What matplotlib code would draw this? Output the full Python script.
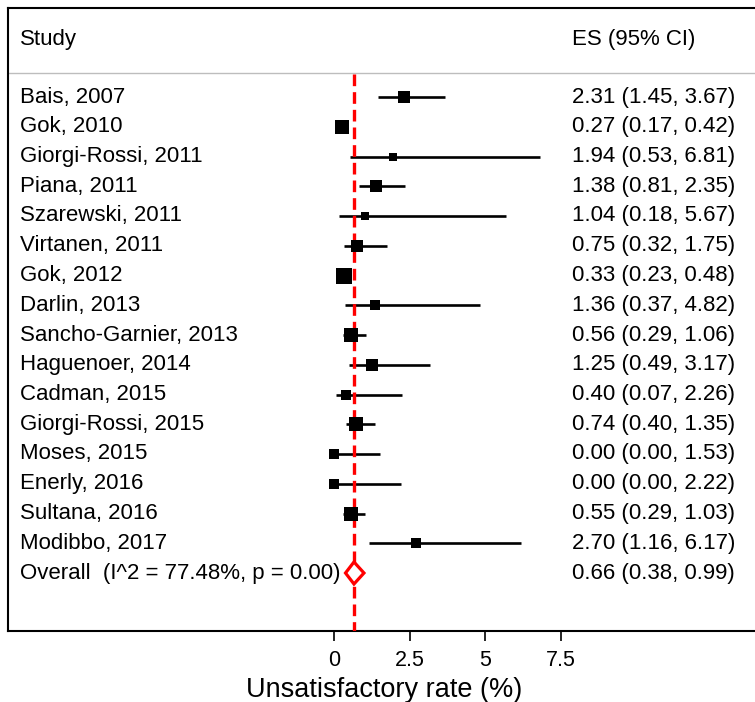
import matplotlib.pyplot as plt
from matplotlib.patches import Polygon

plt.rcParams['font.family'] = ['Liberation Sans', 'DejaVu Sans']

studies = ['Bais, 2007', 'Gok, 2010', 'Giorgi-Rossi, 2011', 'Piana, 2011',
           'Szarewski, 2011', 'Virtanen, 2011', 'Gok, 2012', 'Darlin, 2013',
           'Sancho-Garnier, 2013', 'Haguenoer, 2014', 'Cadman, 2015',
           'Giorgi-Rossi, 2015', 'Moses, 2015', 'Enerly, 2016', 'Sultana, 2016',
           'Modibbo, 2017']
es = [2.31, 0.27, 1.94, 1.38, 1.04, 0.75, 0.33, 1.36, 0.56, 1.25, 0.40, 0.74,
      0.00, 0.00, 0.55, 2.70]
lo = [1.45, 0.17, 0.53, 0.81, 0.18, 0.32, 0.23, 0.37, 0.29, 0.49, 0.07, 0.40,
      0.00, 0.00, 0.29, 1.16]
hi = [3.67, 0.42, 6.81, 2.35, 5.67, 1.75, 0.48, 4.82, 1.06, 3.17, 2.26, 1.35,
      1.53, 2.22, 1.03, 6.17]
# study weights (%), shown as square area
weights = [7.1, 9.8, 3.0, 7.1, 2.6, 7.1, 10.6, 3.9, 8.4, 5.4, 4.8, 8.4, 4.4,
           4.4, 9.1, 3.9]

overall_label = 'Overall  (I^2 = 77.48%, p = 0.00)'
overall = (0.66, 0.38, 0.99)

xticks = [0, 2.5, 5, 7.5]
xticklabels = ['0', '2.5', '5', '7.5']

W, H = 755, 702
fig = plt.figure(figsize=(W / 100, H / 100), dpi=100)

# plot frame in pixels
left_px, right_px, top_px, bot_px = 8, 760, 8, 631
ax = fig.add_axes([left_px / W, 1 - bot_px / H,
                   (right_px - left_px) / W, (bot_px - top_px) / H])

# x scale: 0 -> 334 px, 7.5 -> 561 px
x0_px, ppu = 334, (561 - 334) / 7.5
ax.set_xlim((left_px - x0_px) / ppu, (right_px - x0_px) / ppu)
# rows: first at 97 px, spacing 29.75 px
y0_px, row_px = 97, 29.75
ax.set_ylim((bot_px - y0_px) / row_px, (top_px - y0_px) / row_px)

n = len(studies)
lab_x = (20 - left_px) / (right_px - left_px)
es_x = (572 - left_px) / (right_px - left_px)
tr = ax.get_yaxis_transform()
fs = 16

ax.text(lab_x, -1.92, 'Study', transform=tr, fontsize=fs, va='center')
ax.text(es_x, -1.92, 'ES (95% CI)', transform=tr, fontsize=fs, va='center')
div_y = (73 - y0_px) / row_px
ax.axhline(div_y, color='#bdbdbd', lw=1.0)

for i in range(n):
    ax.plot([lo[i], hi[i]], [i, i], color='black', lw=1.9, zorder=2,
            solid_capstyle='butt')
    size_px = (weights[i] * 18.56) ** 0.5 + 1.2
    ax.plot(es[i], i, marker='s', color='black', ms=size_px * 0.72,
            mew=0, zorder=4)
    ax.text(lab_x, i, studies[i], transform=tr, fontsize=fs, va='center')
    ax.text(es_x, i, '%.2f (%.2f, %.2f)' % (es[i], lo[i], hi[i]),
            transform=tr, fontsize=fs, va='center')

# pooled estimate
m, l, h = overall
ax.plot([m, m], [div_y + 0.05, 18.5], color='red', lw=2.4,
        dashes=(3.5, 1.8), zorder=3)
dh = 0.37
ax.add_patch(Polygon([(l, n), (m, n - dh), (h, n), (m, n + dh)],
                     closed=True, facecolor='white', edgecolor='red',
                     lw=2.3, zorder=5))
ax.text(lab_x, n, overall_label, transform=tr, fontsize=fs, va='center')
ax.text(es_x, n, '%.2f (%.2f, %.2f)' % overall, transform=tr, fontsize=fs,
        va='center')

for s in ax.spines.values():
    s.set_linewidth(1.5)
ax.set_yticks([])
ax.set_xticks(xticks)
ax.set_xticklabels(xticklabels, fontsize=15.5)
ax.tick_params(axis='x', length=7, width=1.2, pad=7)

fig.text(384 / W, 1 - 690 / H, 'Unsatisfactory rate (%)', fontsize=19.5,
         ha='center', va='center')

fig.savefig('out.png', dpi=100)
